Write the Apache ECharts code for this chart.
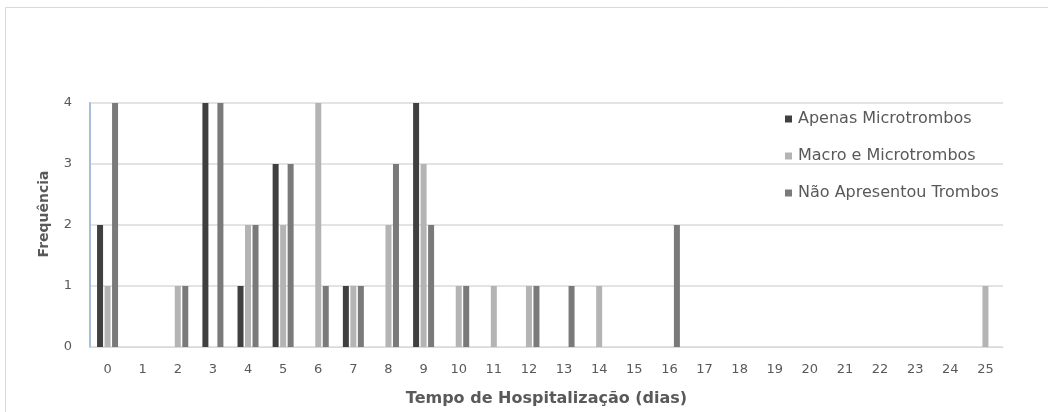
<!DOCTYPE html>
<html>
<head>
<meta charset="utf-8">
<script src="https://cdn.jsdelivr.net/npm/echarts@6/dist/echarts.min.js"></script>
<style>
  html, body { margin: 0; padding: 0; background: #ffffff; }
  #chart { width: 1048px; height: 412px; }
</style>
</head>
<body>
<div id="chart"></div>
<script>
// Hospitalization time in days (x categories)
const dias = ['0','1','2','3','4','5','6','7','8','9','10','11','12','13','14','15','16','17','18','19','20','21','22','23','24','25'];

// Frequency per day for each group
const apenasMicro   = [2,0,0,4,1,3,0,1,0,4,0,0,0,0,0,0,0,0,0,0,0,0,0,0,0,0];
const macroEMicro   = [1,0,1,0,2,2,4,1,2,3,1,1,1,0,1,0,0,0,0,0,0,0,0,0,0,1];
const semTrombos    = [4,0,1,4,2,3,1,1,3,2,1,0,1,1,0,0,2,0,0,0,0,0,0,0,0,0];

const seriesNames = ['Apenas Microtrombos', 'Macro e Microtrombos', 'Não Apresentou Trombos'];
const yTicks = [0, 1, 2, 3, 4];

const textColor = '#595959';
const font = 'DejaVu Sans';

const chart = echarts.init(document.getElementById('chart'), null, { renderer: 'canvas' });

const barBase = { type: 'bar', barWidth: 6, barGap: '25%' };

chart.setOption({
  animation: false,
  backgroundColor: '#ffffff',
  textStyle: { fontFamily: font, color: textColor },
  graphic: [{
    type: 'rect',
    shape: { x: 5.5, y: 7.5, width: 1060, height: 420 },
    style: { fill: 'none', stroke: '#d9d9d9', lineWidth: 1 },
    silent: true
  }],
  grid: { left: 90, right: 45, top: 103, bottom: 64 },
  legend: {
    orient: 'vertical',
    left: 780,
    top: 106,
    itemWidth: 7,
    itemHeight: 7,
    itemGap: 21,
    icon: 'rect',
    data: seriesNames,
    textStyle: { fontFamily: font, fontSize: 16, lineHeight: 15, color: textColor, padding: [0, 0, 0, 1] }
  },
  xAxis: {
    type: 'category',
    data: dias,
    name: 'Tempo de Hospitalização (dias)',
    nameLocation: 'middle',
    nameGap: 44,
    nameTextStyle: { fontFamily: font, fontSize: 16, fontWeight: 'bold', color: textColor },
    axisLine: { lineStyle: { color: '#d9d9d9', width: 1 } },
    axisTick: { show: false },
    axisLabel: { fontFamily: font, fontSize: 13, color: textColor, margin: 16 },
    splitLine: { show: false }
  },
  yAxis: {
    type: 'value',
    min: yTicks[0],
    max: yTicks[yTicks.length - 1],
    interval: 1,
    name: 'Frequência',
    nameLocation: 'middle',
    nameGap: 39,
    nameTextStyle: { fontFamily: font, fontSize: 14, fontWeight: 'bold', color: textColor, padding: [0, 0, 0, 22] },
    axisLine: { show: true, lineStyle: { color: '#a9bcdb', width: 2 } },
    axisTick: { show: false },
    axisLabel: { fontFamily: font, fontSize: 13, color: textColor, margin: 18 },
    splitLine: { lineStyle: { color: '#e3e3e3', width: 2 } }
  },
  series: [
    Object.assign({}, barBase, { name: seriesNames[0], data: apenasMicro, itemStyle: { color: '#404040' } }),
    Object.assign({}, barBase, { name: seriesNames[1], data: macroEMicro, itemStyle: { color: '#b4b4b4' } }),
    Object.assign({}, barBase, { name: seriesNames[2], data: semTrombos,  itemStyle: { color: '#7a7a7a' } })
  ]
});
</script>
</body>
</html>
